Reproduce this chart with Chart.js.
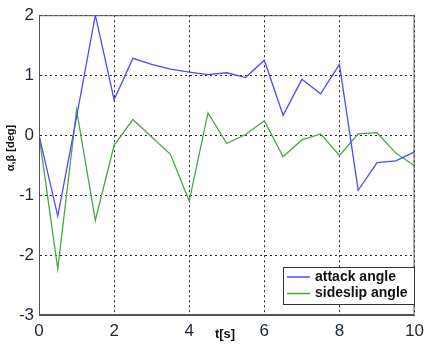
<!DOCTYPE html>
<html>
<head>
<meta charset="utf-8">
<script src="https://cdn.jsdelivr.net/npm/chart.js@4/dist/chart.umd.min.js"></script>
<style>
  html, body { margin: 0; padding: 0; background: #fff; }
  #wrap { width: 430px; height: 345px; }
</style>
</head>
<body>
<div id="wrap"><canvas id="chart"></canvas></div>
<script>
const times = [0, 0.5, 1, 1.5, 2, 2.5, 3, 3.5, 4, 4.5, 5, 5.5, 6, 6.5, 7, 7.5, 8, 8.5, 9, 9.5, 10];
const attack = [0, -1.35, 0.3, 2.0, 0.59, 1.28, 1.18, 1.1, 1.05, 1.01, 1.04, 0.96, 1.25, 0.33, 0.93, 0.69, 1.18, -0.92, -0.46, -0.43, -0.28];
const sideslip = [0, -2.23, 0.42, -1.42, -0.17, 0.26, -0.03, -0.32, -1.1, 0.37, -0.14, 0.01, 0.24, -0.36, -0.08, 0.02, -0.34, 0.02, 0.04, -0.3, -0.51];
const seriesNames = ["attack angle", "sideslip angle"];
const xTitle = "t[s]";
const yTitle = "α,β [deg]";

const ctx = document.getElementById("chart").getContext("2d");

const tickFont = { family: "Liberation Sans, Arial, sans-serif", size: 17 };
const tickColor = "#1d2733";

// axis titles, legend box and top/right frame, drawn by hand like the original
const extras = {
    id: "extras",
    afterDraw(chart) {
        const c = chart.ctx;
        const a = chart.chartArea;
        c.save();
        c.strokeStyle = "#555";
        c.lineWidth = 1;
        c.strokeRect(a.left + 0.5, a.top + 0.5, a.right - a.left - 1, a.bottom - a.top - 1);

        c.fillStyle = "#111";
        c.font = "bold 13px Liberation Sans, Arial, sans-serif";
        c.textAlign = "center";
        c.textBaseline = "middle";
        c.fillText(xTitle, 225, 334);

        c.font = "bold 11px Liberation Sans, Arial, sans-serif";
        c.translate(11, 148);
        c.rotate(-Math.PI / 2);
        c.fillText(yTitle, 0, 0);
        c.restore();

        // legend
        c.save();
        const lx = 283, ly = 267, lw = 131, lh = 37;
        c.fillStyle = "#fff";
        c.fillRect(lx, ly, lw, lh);
        c.strokeStyle = "#333";
        c.lineWidth = 1;
        c.strokeRect(lx + 0.5, ly + 0.5, lw, lh);
        c.font = "bold 14px Liberation Sans, Arial, sans-serif";
        c.textAlign = "left";
        c.textBaseline = "middle";
        chart.data.datasets.forEach((ds, i) => {
            const y = ly + 10 + i * 16.5;
            c.strokeStyle = ds.borderColor;
            c.lineWidth = 1.5;
            c.beginPath();
            c.moveTo(lx + 4, y);
            c.lineTo(lx + 27, y);
            c.stroke();
            c.fillStyle = "#111";
            c.fillText(ds.label, lx + 32, y);
        });
        c.restore();
    }
};

const chart = new Chart(ctx, {
    type: "line",
    data: {
        datasets: [
            {
                label: seriesNames[0],
                data: times.map((t, i) => ({ x: t, y: attack[i] })),
                borderColor: "#4b4bff",
                borderWidth: 1.3,
                pointRadius: 0,
                tension: 0
            },
            {
                label: seriesNames[1],
                data: times.map((t, i) => ({ x: t, y: sideslip[i] })),
                borderColor: "#45a845",
                borderWidth: 1.3,
                pointRadius: 0,
                tension: 0
            }
        ]
    },
    options: {
        responsive: true,
        maintainAspectRatio: false,
        animation: false,
        layout: { padding: { top: 13, right: 8, left: 0, bottom: 0 } },
        plugins: {
            legend: { display: false },
            tooltip: { enabled: false }
        },
        scales: {
            x: {
                type: "linear",
                min: 0,
                max: 10,
                afterFit(scale) { scale.height = 30; },
                ticks: { stepSize: 2, color: tickColor, font: tickFont, padding: 6, maxRotation: 0 },
                grid: { color: "#222", lineWidth: 1, drawTicks: false },
                border: { color: "#555", dash: [2, 3] }
            },
            y: {
                min: -3,
                max: 2,
                afterFit(scale) { scale.width = 39; },
                ticks: { stepSize: 1, color: tickColor, font: tickFont, padding: 5 },
                grid: { color: "#222", lineWidth: 1, drawTicks: false },
                border: { color: "#555", dash: [2, 3] }
            }
        }
    },
    plugins: [extras]
});
</script>
</body>
</html>
